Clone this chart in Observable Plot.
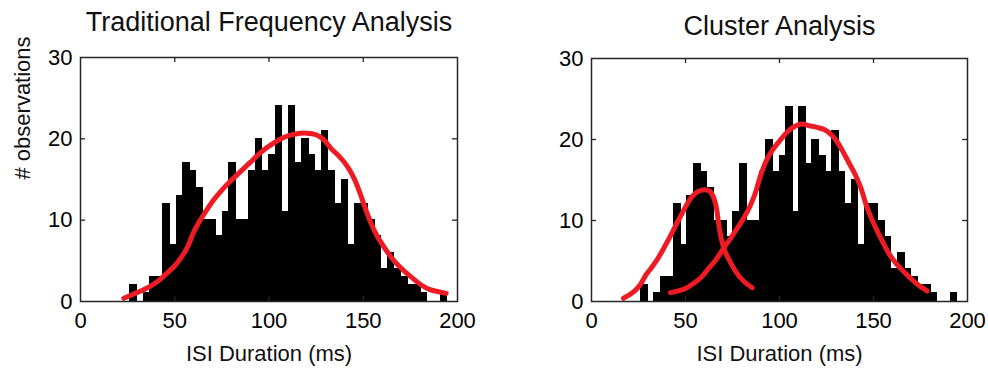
<!DOCTYPE html>
<html><head><meta charset="utf-8">
<script src="https://cdn.jsdelivr.net/npm/d3@7"></script>
<script src="https://cdn.jsdelivr.net/npm/@observablehq/plot@0.6"></script>
<style>
body{margin:0;background:#fff;}
#wrap{display:flex;width:988px;height:368px;overflow:hidden;}
</style></head><body><div id="wrap"></div>
<script>
// ---- data ----
const binStart = 26.5;   // ms, left edge of first histogram bin
const binWidth = 3.5;    // ms
const counts = [2,0,1,3,3,12,7,13,17,16,14,10,10,8,11,17,10,10,16,20,16,18,24,11,24,17,20,18,16,21,16,12,15,7,12,12,10,8,4,6,4,3,2,2,1,0,0,1];
const xTicks = [0,50,100,150,200];
const yTicks = [0,10,20,30];
const titles = ["Traditional Frequency Analysis", "Cluster Analysis"];
const xLabel = "ISI Duration (ms)";
const yLabel = "# observations";

// single fit (left panel)
const fitAX = [23,28,34,40,45,50,54,57,60,63,66,70,75,80,85,90,96,102,108,114,120,125,129,133,137,141,145,148,151,154,157,161,166,171,176,181,185,190,194];
const fitAY = [0.4,0.9,1.5,2.3,3.3,4.4,5.6,6.8,8.5,9.8,10.9,12.3,13.7,14.9,16.0,17.1,18.4,19.4,20.2,20.6,20.7,20.5,19.9,18.8,17.9,16.8,15.2,13.5,11.5,9.7,8.2,6.7,5.1,3.9,2.9,2.0,1.5,1.2,1.0];
// cluster fits (right panel)
const fitBX = [17,20,23,26,29,32,35,38,42,45,48,51,54,57,60,63,65,66.5,67.5,69,71,74,77,81,85.5];
const fitBY = [0.4,0.8,1.3,2.1,3.3,4.2,5.2,6.4,8.1,9.5,10.8,12.1,13.1,13.6,13.8,13.6,12.8,11.5,9.8,7.8,6.2,4.8,3.6,2.5,1.7];
const fitCX = [42,46,50,54,58,62,66,70,74,78,81,84,87,90,93,96,100,104,108,112,116,120,124,128,131,134,137,140,143,146,149,152,155,158,162,166,170,174,178.5];
const fitCY = [1.1,1.3,1.6,2.2,2.9,4.0,5.1,6.5,7.8,9.2,10.3,11.6,13.3,15.6,17.4,18.6,19.8,20.9,21.6,21.9,21.7,21.5,21.2,20.5,19.6,18.4,17.1,15.8,14.2,12.0,10.2,8.7,7.3,6.0,4.7,3.7,2.8,2.0,1.3];

// ---- derived tables ----
const bins = counts.map((c, i) => ({x1: binStart + i * binWidth, x2: binStart + (i + 1) * binWidth, y: c})).filter(d => d.y > 0);
const toPts = (xs, ys) => xs.map((x, i) => ({x, y: ys[i]}));
const RED = "#ed1c24";
const INK = "#262626";

function panel({title, ml, mr, mt, fits, showY, titleDy}) {
  const W = 494, H = 368, mb = 67;
  const fw = W - ml - mr, fh = H - mt - mb;
  const inner = yTicks.slice(1, -1), innerX = xTicks.slice(1, -1);
  const marks = [
    Plot.rectY(bins, {x1: "x1", x2: "x2", y: "y", fill: "black", stroke: "black", strokeWidth: 1, shapeRendering: "crispEdges"}),
    ...fits.map(f => Plot.line(f, {x: "x", y: "y", stroke: RED, strokeWidth: 5, curve: "catmull-rom", strokeLinecap: "round", strokeLinejoin: "round"})),
    Plot.frame({stroke: INK, strokeWidth: 1.5}),
    Plot.ruleY(inner, {insetRight: fw - 5, stroke: INK, strokeWidth: 1.3}),
    Plot.ruleY(inner, {insetLeft: fw - 5, stroke: INK, strokeWidth: 1.3}),
    Plot.ruleX(innerX, {insetTop: fh - 5, stroke: INK, strokeWidth: 1.3}),
    Plot.ruleX(innerX, {insetBottom: fh - 5, stroke: INK, strokeWidth: 1.3}),
    Plot.axisX(xTicks, {tickSize: 0, tickPadding: 11, fontSize: 22, label: null, fill: "black"}),
    Plot.axisY(yTicks, {tickSize: 0, tickPadding: 8, fontSize: 22, label: null, fill: "black"}),
    Plot.text([title], {text: d => d, frameAnchor: "top", lineAnchor: "middle", dy: titleDy, fontSize: 27, fill: "#111"}),
    Plot.text([xLabel], {text: d => d, frameAnchor: "bottom", lineAnchor: "middle", dy: 52, fontSize: 22, fill: "#111"})
  ];
  if (showY) marks.push(Plot.text([yLabel], {text: d => d, frameAnchor: "left", lineAnchor: "middle", dx: -58, rotate: -90, fontSize: 22, fill: "#111"}));
  return Plot.plot({
    width: W, height: H,
    marginLeft: ml, marginRight: mr, marginTop: mt, marginBottom: mb,
    x: {domain: [0, 200], label: null},
    y: {domain: [0, 30], label: null},
    style: {fontFamily: "'Liberation Sans', Arial, sans-serif", background: "white", overflow: "visible"},
    marks
  });
}

const wrap = document.getElementById("wrap");
wrap.append(panel({title: titles[0], ml: 80, mr: 37, mt: 57, fits: [toPts(fitAX, fitAY)], showY: true, titleDy: -35}));
wrap.append(panel({title: titles[1], ml: 97, mr: 21, mt: 58, fits: [toPts(fitBX, fitBY), toPts(fitCX, fitCY)], showY: false, titleDy: -32}));
</script></body></html>
